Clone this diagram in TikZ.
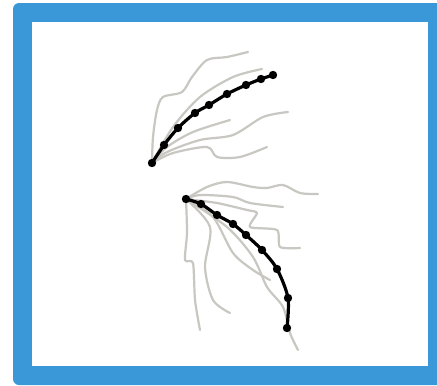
\documentclass[tikz,border=0pt]{standalone}
\usepackage{tikz}
\usetikzlibrary{calc}

\definecolor{frameblue}{HTML}{3A98D8}
\definecolor{strandgrey}{HTML}{C9C7C1}

\begin{document}
\begin{tikzpicture}[
    x=1pt, y=-1pt,
    strand/.style={draw=strandgrey, line width=2.2pt, line cap=round, line join=round},
    spine/.style={draw=black, line width=3.2pt, line cap=round},
    joint/.style={fill=black},
]
\useasboundingbox (0,0) rectangle (437,386);

% Frame
\fill[frameblue, rounded corners=6pt] (13,3) rectangle (450,385);
\fill[white] (32,22) rectangle (428,366);

% Upper grey strands
\draw[strand] plot[smooth, tension=0.5] coordinates {(152,163) (153,137) (157,110) (163,97) (182,92) (192,77) (207,60) (227,57) (248,52)};
\draw[strand] plot[smooth] coordinates {(152,163) (173,127) (200,97) (233,77) (262,69)};
\draw[strand] plot[smooth] coordinates {(152,163) (167,147) (193,132) (230,120)};
\draw[strand] plot[smooth] coordinates {(152,163) (167,152) (200,140) (233,135) (263,117) (288,112)};
\draw[strand] plot[smooth, tension=0.5] coordinates {(152,163) (173,153) (207,147) (217,157) (240,157) (267,147)};

% Upper spine
\draw[spine] plot[smooth] coordinates {(152,163) (164,145) (178,128) (195,113) (209,105) (227,94) (246,85) (261,79) (273,75)};
\foreach \p in {(152,163), (164,145), (178,128), (195,113), (209,105), (227,94), (246,85), (261,79), (273,75)}
    \fill[joint] \p circle (4.2pt);

% Lower grey strands
\draw[strand] plot[smooth, tension=0.5] coordinates {(186,199) (207,187) (227,182) (253,187) (267,188) (283,185) (300,193) (318,194)};
\draw[strand] plot[smooth] coordinates {(186,199) (200,195) (233,197) (250,203) (283,207)};
\draw[strand] plot[smooth, tension=0.4] coordinates {(186,199) (217,203) (247,210) (257,213) (250,227) (277,230) (280,247) (300,248)};
\draw[strand] plot[smooth, tension=0.4] coordinates {(186,199) (187,233) (185,260) (193,263) (195,300) (200,330)};
\draw[strand] plot[smooth] coordinates {(186,199) (210,227) (205,267) (213,300) (230,313)};
\draw[strand] plot[smooth] coordinates {(186,199) (213,217) (233,253) (253,270) (270,280)};
\draw[strand] plot[smooth] coordinates {(186,199) (227,227) (253,257) (267,287) (283,307) (290,333) (298,350)};

% Lower spine
\draw[spine] plot[smooth] coordinates {(186,199) (201,204) (217,215) (233,224) (246,235) (262,250) (277,269) (288,298) (287,328)};
\foreach \p in {(186,199), (201,204), (217,215), (233,224), (246,235), (262,250), (277,269), (288,298), (287,328)}
    \fill[joint] \p circle (4.2pt);

\end{tikzpicture}
\end{document}
